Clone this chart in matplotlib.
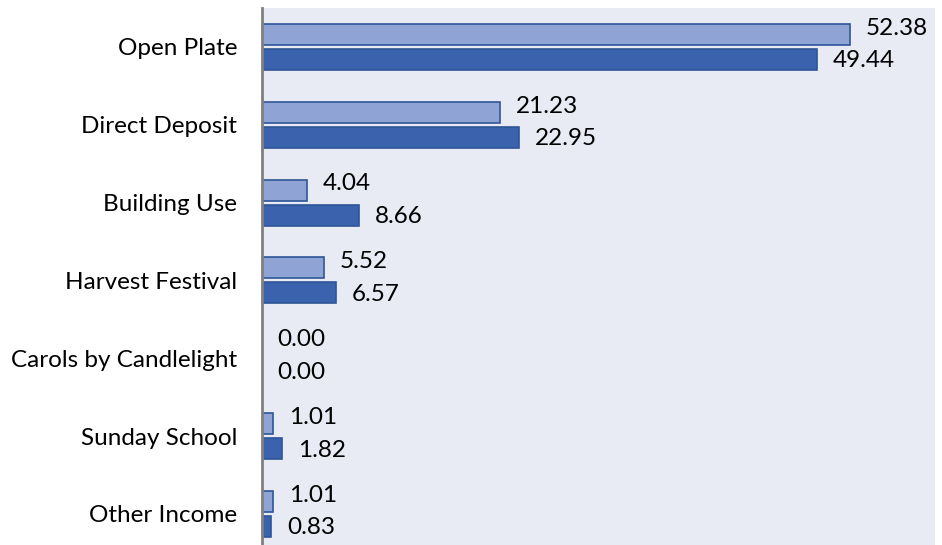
import matplotlib
matplotlib.use('Agg')
import matplotlib.pyplot as plt
import numpy as np

plt.rcParams['font.family'] = ['Lato', 'DejaVu Sans']

# data
categories = ['Open Plate', 'Direct Deposit', 'Building Use', 'Harvest Festival',
              'Carols by Candlelight', 'Sunday School', 'Other Income']
series_a = [52.38, 21.23, 4.04, 5.52, 0.00, 1.01, 1.01]
series_b = [49.44, 22.95, 8.66, 6.57, 0.00, 1.82, 0.83]

light = '#8FA3D5'
dark = '#3A62AD'
edge = '#2F5597'

fig = plt.figure(figsize=(9.42, 5.45), dpi=100)
ax = fig.add_axes([262 / 942, 0, (935 - 262) / 942, (545 - 8) / 545])
ax.set_facecolor('#E8EAF4')

y = np.arange(len(categories))
h = 0.27
ax.barh(y - 0.16, series_a, height=h, color=light, edgecolor=edge, linewidth=1.2)
ax.barh(y + 0.16, series_b, height=h, color=dark, edgecolor=edge, linewidth=1.2)

for yi, a, b in zip(y, series_a, series_b):
    ax.text(a + 1.4, yi - 0.24, f'{a:.2f}', va='center', ha='left', fontsize=17.5)
    ax.text(b + 1.4, yi + 0.18, f'{b:.2f}', va='center', ha='left', fontsize=17.5)

ax.set_xlim(0, 60)
ax.set_ylim(6.4, -0.5)
ax.set_yticks(y)
ax.set_yticklabels(categories, fontsize=17.5)
ax.tick_params(axis='y', length=0, pad=18)
ax.set_xticks([])
for s in ['top', 'right', 'bottom']:
    ax.spines[s].set_visible(False)
ax.spines['left'].set_color('#808080')
ax.spines['left'].set_linewidth(2)

fig.savefig('out.png', dpi=100)
